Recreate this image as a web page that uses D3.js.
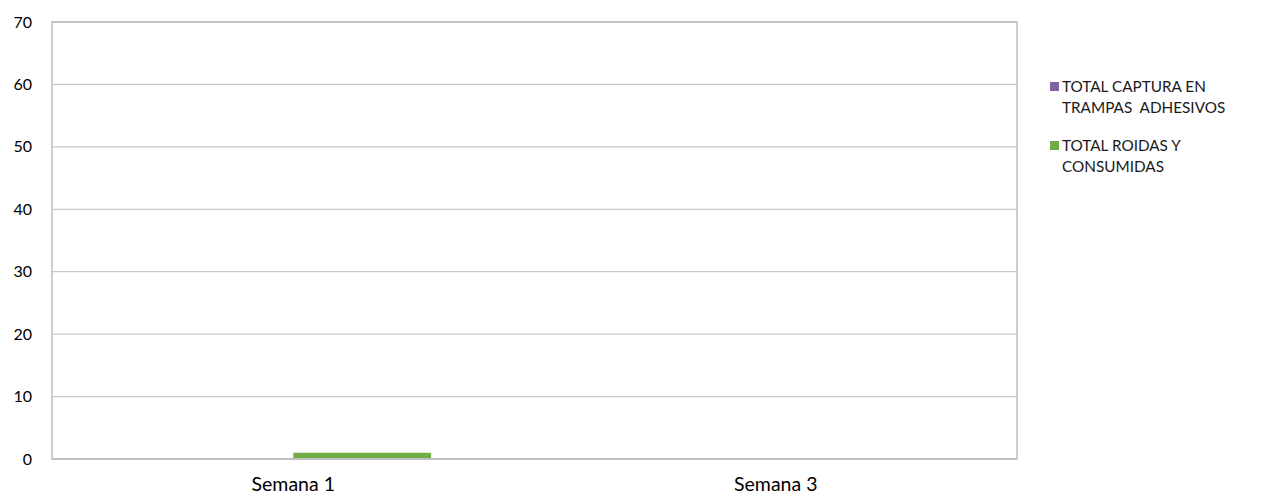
<body style="margin:0">
  <script src="https://d3js.org/d3.v7.min.js"></script>
  <style>
    * { font-family: Lato, "Open Sans", sans-serif; }
    .tick text { fill: #000; }
    .legend text { font-size: 15.3px; fill: #1a1a1a; white-space: pre; }
  </style>
  <script>
    var categories = ["Semana 1", "Semana 3"];
    var seriesNames = ["TOTAL CAPTURA EN TRAMPAS  ADHESIVOS", "TOTAL ROIDAS Y CONSUMIDAS"];
    var legendLines = [["TOTAL CAPTURA EN", "TRAMPAS  ADHESIVOS"], ["TOTAL ROIDAS Y", "CONSUMIDAS"]];
    var capturaValues = [0, 0];
    var roidasValues = [1, 0];
    var yTicks = [0, 10, 20, 30, 40, 50, 60, 70];
    var colors = ["#8064a2", "#70ad47"];

    var margin = {top: 22, right: 251, bottom: 37, left: 52}
      , width = 1268 - margin.left - margin.right
      , height = 496 - margin.top - margin.bottom;

    var svg = d3.select("body").append("svg")
      .attr("width", 1268)
      .attr("height", 496)
      .append("g")
      .attr("transform", "translate(" + margin.left + "," + margin.top + ")");

    const x = d3.scaleBand().range([0, width]).domain(categories);
    const y = d3.scaleLinear().range([height, 0]).domain([0, 70]);
    // gap width 150% like the original spreadsheet chart
    const barW = x.bandwidth() / 3.5;
    const inner = d3.scaleBand().domain(seriesNames).range([0, barW * 2]);

    // gridlines
    svg.append("g")
      .selectAll("line")
      .data(yTicks)
      .enter().append("line")
      .attr("x1", 0).attr("x2", width)
      .attr("y1", d => y(d)).attr("y2", d => y(d))
      .attr("stroke", "#c8c8c8").attr("stroke-width", 1.3);

    // plot border
    svg.append("rect")
      .attr("x", 0).attr("y", 0).attr("width", width).attr("height", height)
      .attr("fill", "none").attr("stroke", "#bfbfbf").attr("stroke-width", 1.5);

    const data = categories.map((c, i) => ({cat: c, values: [capturaValues[i], roidasValues[i]]}));

    data.forEach(d => {
      d.values.forEach((v, j) => {
        svg.append("rect")
          .attr("x", x(d.cat) + barW * 0.75 + inner(seriesNames[j]))
          .attr("width", inner.bandwidth())
          .attr("y", y(v))
          .attr("height", height - y(v))
          .attr("fill", colors[j]);
      });
    });

    // bottom axis line
    svg.append("line")
      .attr("x1", 0).attr("x2", width)
      .attr("y1", height).attr("y2", height)
      .attr("stroke", "#bfbfbf").attr("stroke-width", 2);

    const yAxis = svg.append("g")
      .call(d3.axisLeft(y).tickValues(yTicks).tickSize(0).tickPadding(20));
    yAxis.select(".domain").remove();
    yAxis.selectAll("text").style("font-size", "16px");

    const xAxis = svg.append("g")
      .attr("transform", "translate(0," + height + ")")
      .call(d3.axisBottom(x).tickSize(0).tickPadding(18));
    xAxis.select(".domain").remove();
    xAxis.selectAll("text").style("font-size", "19.5px");

    // legend
    const legend = svg.append("g").attr("class", "legend")
      .attr("transform", "translate(" + (width + 33) + ",0)");
    legendLines.forEach((lines, i) => {
      const g = legend.append("g").attr("transform", "translate(0," + (60 + i * 59) + ")");
      g.append("rect").attr("x", 0).attr("y", 0).attr("width", 9).attr("height", 9)
        .attr("fill", colors[i]);
      lines.forEach((t, k) => {
        g.append("text").attr("x", 12).attr("y", 10 + k * 21).text(t);
      });
    });
  </script>
</body>
